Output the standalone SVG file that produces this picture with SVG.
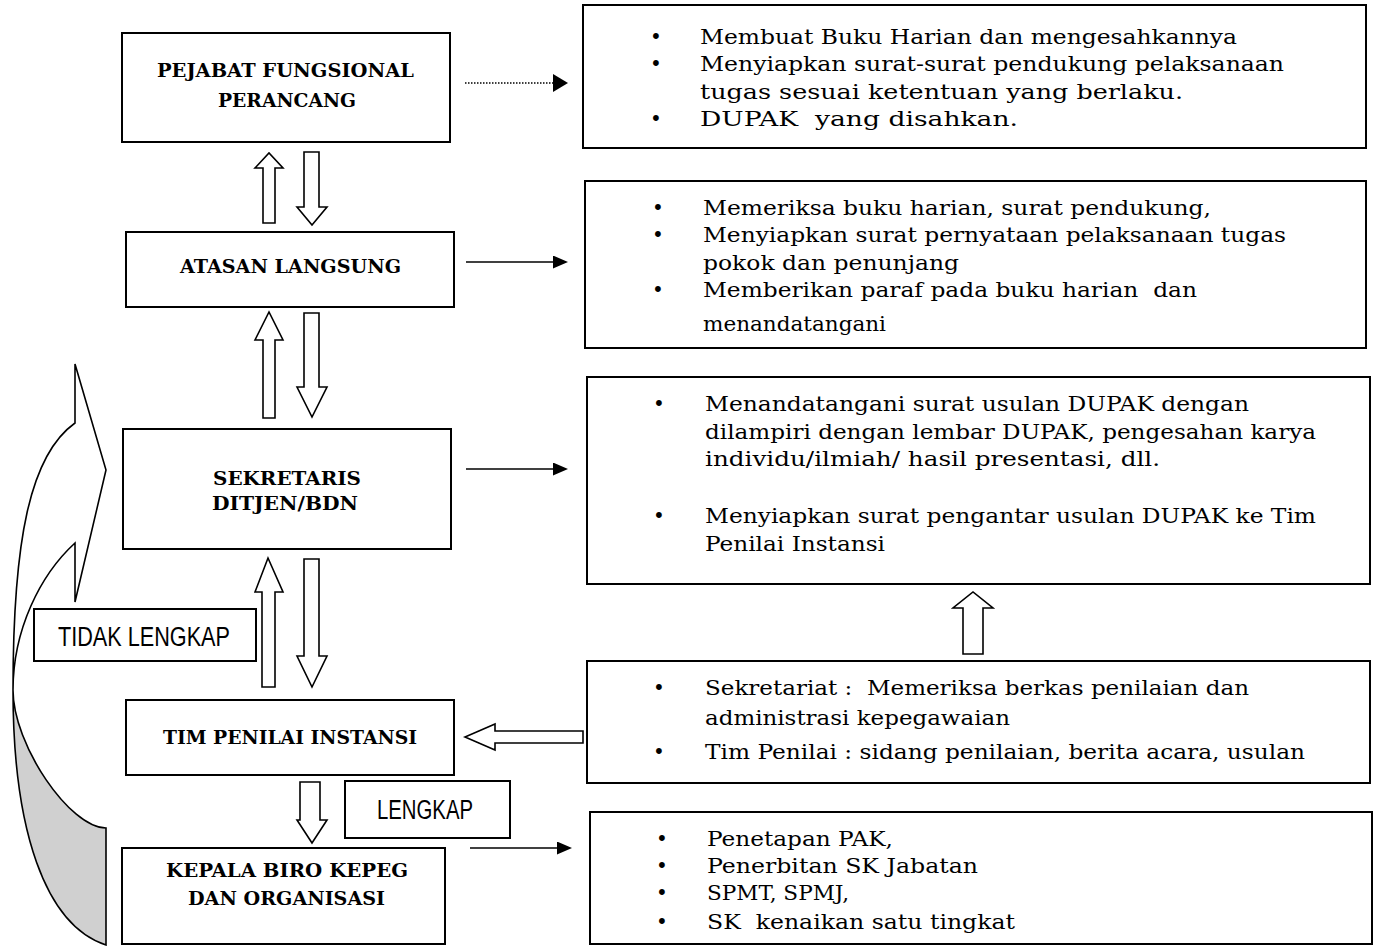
<svg xmlns="http://www.w3.org/2000/svg" width="1377" height="946" viewBox="0 0 1377 946">
<defs>
<style>
.box{fill:#fff;stroke:#000;stroke-width:2}
.lbl{font-family:"DejaVu Serif","Liberation Serif",serif;font-weight:bold;font-size:19px;fill:#000}
.txt{font-family:"DejaVu Serif","Liberation Serif",serif;font-size:20px;fill:#000;white-space:pre}
.sans{font-family:"Liberation Sans",Arial,sans-serif;font-size:27px;fill:#000}
.blk{fill:#fff;stroke:#000;stroke-width:1.6;stroke-linejoin:miter}
.ln{fill:none;stroke:#000;stroke-width:1.6}
.dot{fill:none;stroke:#000;stroke-width:1.5;stroke-dasharray:1.5 1.5}
</style>
<marker id="ah" viewBox="0 0 15 13" refX="0" refY="6.5" markerWidth="15" markerHeight="13" markerUnits="userSpaceOnUse" orient="auto">
<path d="M0,0 L15,6.5 L0,13 Z" fill="#000"/>
</marker>
</defs>

<g id="curved-arrow">
<path d="M75,423 C30,455 13,540 13,690 C13,630 40,575 75,543 L75,602 L106,470 L75,364 Z" fill="#fff" stroke="#000" stroke-width="1.6" stroke-linejoin="miter"/>
<path d="M13,690 C13,745 70,828 106,828 L106,945 C45,925 13,830 13,690 Z" fill="#d0d0d0" stroke="#000" stroke-width="1.6"/>
</g>

<g id="connectors">
<polygon class="blk" points="263,223 263,168 255,168 269,153 283,168 275,168 275,223"/>
<polygon class="blk" points="304,152 319,152 319,207 327,207 312,225 297,207 304,207"/>
<polygon class="blk" points="263,418 263,340 255,340 269,312 283,340 275,340 275,418"/>
<polygon class="blk" points="304,313 319,313 319,387 327,387 312,417 297,387 304,387"/>
<polygon class="blk" points="262,687 262,592 255,592 268,558 283,592 275,592 275,687"/>
<polygon class="blk" points="304,559 319,559 319,656 327,656 312,687 297,656 304,656"/>
<polygon class="blk" points="300,782 320,782 320,820 327,820 312,843 297,820 300,820"/>
<polygon class="blk" points="583,731 495,731 495,724 465,737 495,750 495,743 583,743"/>
<polygon class="blk" points="963,654 963,608 953,608 973,592 993,608 983,608 983,654"/>
<line class="dot" x1="465" y1="83" x2="553" y2="83"/>
<path d="M553,74 L568,83 L553,92 Z" fill="#000"/>
<line class="ln" x1="466" y1="262" x2="553" y2="262" marker-end="url(#ah)"/>
<line class="ln" x1="466" y1="469" x2="553" y2="469" marker-end="url(#ah)"/>
<line class="ln" x1="470" y1="848" x2="557" y2="848" marker-end="url(#ah)"/>
</g>

<g id="label-tidak-lengkap">
<rect class="box" x="34" y="609" width="222" height="52" stroke-width="1.6"/>
<text class="sans" x="58" y="646" textLength="172" lengthAdjust="spacingAndGlyphs">TIDAK LENGKAP</text>
</g>
<g id="label-lengkap">
<rect class="box" x="345" y="781" width="165" height="57" stroke-width="1.6"/>
<text class="sans" x="377" y="819" textLength="96" lengthAdjust="spacingAndGlyphs">LENGKAP</text>
</g>

<g id="node-pejabat">
<rect class="box" x="122" y="33" width="328" height="109"/>
<text class="lbl" x="157" y="77" textLength="257" lengthAdjust="spacingAndGlyphs">PEJABAT FUNGSIONAL</text>
<text class="lbl" x="218" y="107" textLength="138" lengthAdjust="spacingAndGlyphs">PERANCANG</text>
</g>
<g id="node-atasan">
<rect class="box" x="126" y="232" width="328" height="75"/>
<text class="lbl" x="180" y="273" textLength="221" lengthAdjust="spacingAndGlyphs">ATASAN LANGSUNG</text>
</g>
<g id="node-sekretaris">
<rect class="box" x="123" y="429" width="328" height="120"/>
<text class="lbl" x="213" y="485" textLength="148" lengthAdjust="spacingAndGlyphs">SEKRETARIS</text>
<text class="lbl" x="212" y="510" textLength="146" lengthAdjust="spacingAndGlyphs">DITJEN/BDN</text>
</g>
<g id="node-tim">
<rect class="box" x="126" y="700" width="328" height="75"/>
<text class="lbl" x="163" y="744" textLength="254" lengthAdjust="spacingAndGlyphs">TIM PENILAI INSTANSI</text>
</g>
<g id="node-kepala">
<rect class="box" x="122" y="848" width="323" height="96"/>
<text class="lbl" x="166" y="877" textLength="242" lengthAdjust="spacingAndGlyphs">KEPALA BIRO KEPEG</text>
<text class="lbl" x="188" y="905" textLength="197" lengthAdjust="spacingAndGlyphs">DAN ORGANISASI</text>
</g>

<g id="note-a">
<rect class="box" x="583" y="5" width="783" height="143"/>
<text class="txt" x="650" y="44">•</text>
<text class="txt" x="700" y="44" textLength="537" lengthAdjust="spacingAndGlyphs">Membuat Buku Harian dan mengesahkannya</text>
<text class="txt" x="650" y="71">•</text>
<text class="txt" x="700" y="71" textLength="584" lengthAdjust="spacingAndGlyphs">Menyiapkan surat-surat pendukung pelaksanaan</text>
<text class="txt" x="700" y="99" textLength="483" lengthAdjust="spacingAndGlyphs">tugas sesuai ketentuan yang berlaku.</text>
<text class="txt" x="650" y="126">•</text>
<text class="txt" x="700" y="126" textLength="318" lengthAdjust="spacingAndGlyphs">DUPAK  yang disahkan.</text>
</g>
<g id="note-b">
<rect class="box" x="585" y="181" width="781" height="167"/>
<text class="txt" x="652" y="215">•</text>
<text class="txt" x="703" y="215" textLength="508" lengthAdjust="spacingAndGlyphs">Memeriksa buku harian, surat pendukung,</text>
<text class="txt" x="652" y="242">•</text>
<text class="txt" x="703" y="242" textLength="583" lengthAdjust="spacingAndGlyphs">Menyiapkan surat pernyataan pelaksanaan tugas</text>
<text class="txt" x="703" y="270" textLength="256" lengthAdjust="spacingAndGlyphs">pokok dan penunjang</text>
<text class="txt" x="652" y="297">•</text>
<text class="txt" x="703" y="297" textLength="494" lengthAdjust="spacingAndGlyphs">Memberikan paraf pada buku harian  dan</text>
<text class="txt" x="703" y="331" textLength="183" lengthAdjust="spacingAndGlyphs">menandatangani</text>
</g>
<g id="note-c">
<rect class="box" x="587" y="377" width="783" height="207"/>
<text class="txt" x="653" y="411">•</text>
<text class="txt" x="705" y="411" textLength="544" lengthAdjust="spacingAndGlyphs">Menandatangani surat usulan DUPAK dengan</text>
<text class="txt" x="705" y="439" textLength="611" lengthAdjust="spacingAndGlyphs">dilampiri dengan lembar DUPAK, pengesahan karya</text>
<text class="txt" x="705" y="466" textLength="455" lengthAdjust="spacingAndGlyphs">individu/ilmiah/ hasil presentasi, dll.</text>
<text class="txt" x="653" y="523">•</text>
<text class="txt" x="705" y="523" textLength="611" lengthAdjust="spacingAndGlyphs">Menyiapkan surat pengantar usulan DUPAK ke Tim</text>
<text class="txt" x="705" y="551" textLength="180" lengthAdjust="spacingAndGlyphs">Penilai Instansi</text>
</g>
<g id="note-d">
<rect class="box" x="587" y="661" width="783" height="122"/>
<text class="txt" x="653" y="695">•</text>
<text class="txt" x="705" y="695" textLength="544" lengthAdjust="spacingAndGlyphs">Sekretariat :  Memeriksa berkas penilaian dan</text>
<text class="txt" x="705" y="725" textLength="305" lengthAdjust="spacingAndGlyphs">administrasi kepegawaian</text>
<text class="txt" x="653" y="759">•</text>
<text class="txt" x="705" y="759" textLength="600" lengthAdjust="spacingAndGlyphs">Tim Penilai : sidang penilaian, berita acara, usulan</text>
</g>
<g id="note-e">
<rect class="box" x="590" y="812" width="782" height="132"/>
<text class="txt" x="656" y="846">•</text>
<text class="txt" x="707" y="846" textLength="186" lengthAdjust="spacingAndGlyphs">Penetapan PAK,</text>
<text class="txt" x="656" y="873">•</text>
<text class="txt" x="707" y="873" textLength="271" lengthAdjust="spacingAndGlyphs">Penerbitan SK Jabatan</text>
<text class="txt" x="656" y="900">•</text>
<text class="txt" x="707" y="900" textLength="142" lengthAdjust="spacingAndGlyphs">SPMT, SPMJ,</text>
<text class="txt" x="656" y="929">•</text>
<text class="txt" x="707" y="929" textLength="308" lengthAdjust="spacingAndGlyphs">SK  kenaikan satu tingkat</text>
</g>
</svg>
